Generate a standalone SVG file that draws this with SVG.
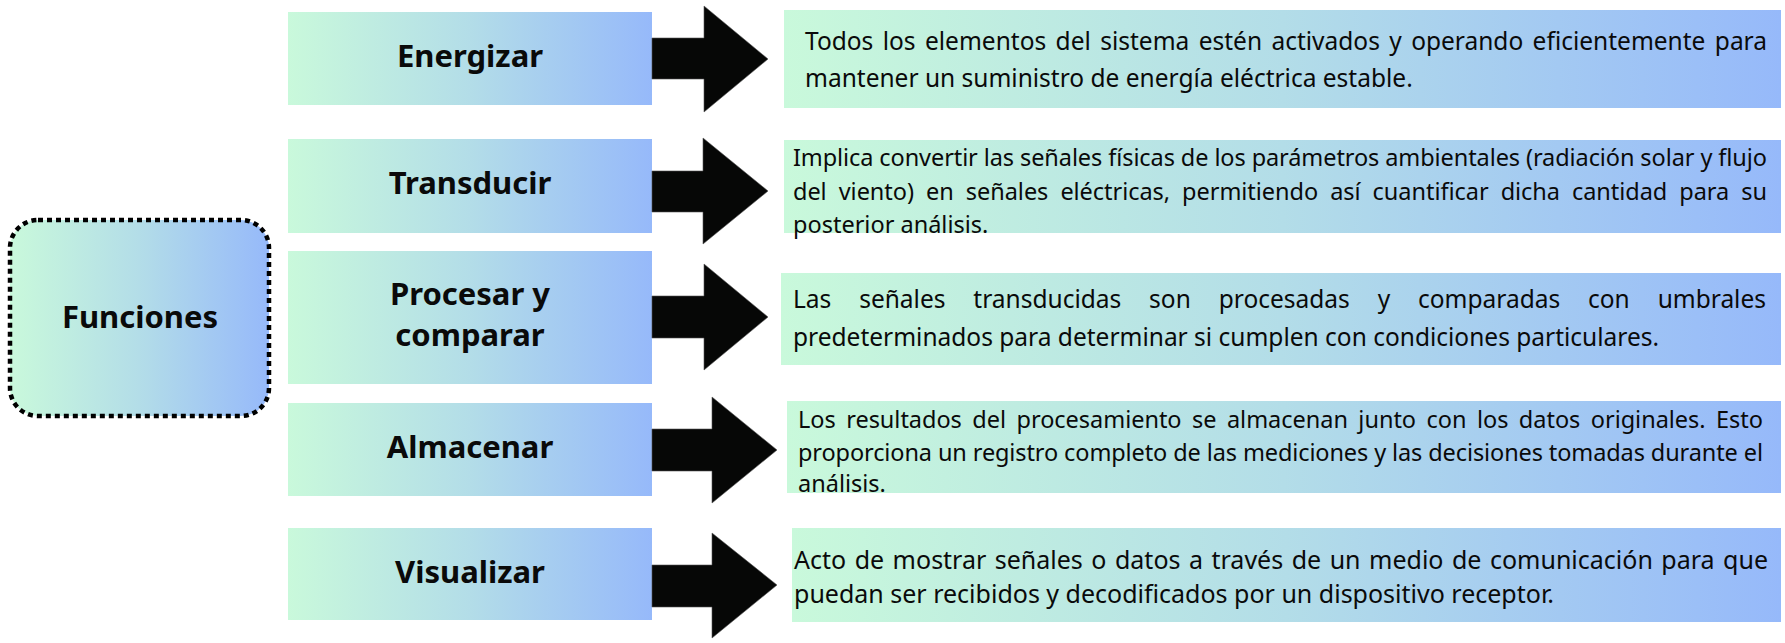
<svg xmlns="http://www.w3.org/2000/svg" width="1785" height="643" viewBox="0 0 1785 643">
<defs>
<linearGradient id="g" x1="0" y1="0" x2="1" y2="0">
<stop offset="0" stop-color="#c9f9db"/>
<stop offset="0.5" stop-color="#b3dde8"/>
<stop offset="1" stop-color="#96b9fa"/>
</linearGradient>
<style>
.box{fill:url(#g);}
.lbl{font-family:"Noto Sans","Open Sans",sans-serif;font-weight:bold;font-size:31px;fill:#0a0a0a;text-anchor:middle;}
.d{font-family:"Noto Sans","Open Sans",sans-serif;font-size:23.5px;fill:#0a0a0a;}
.arr{fill:#060706;stroke:#555;stroke-width:0.6;}
</style>
</defs>
<rect width="1785" height="643" fill="#ffffff"/>

<g id="funciones">
<rect x="10" y="220" width="259" height="196" rx="28" fill="url(#g)" stroke="#000" stroke-width="4.5" stroke-dasharray="5 4"/>
<text class="lbl" x="140" y="328">Funciones</text>
</g>

<g id="energizar">
<rect class="box" x="288" y="12" width="364" height="93"/>
<text class="lbl" x="470" y="67">Energizar</text>
</g>
<g id="transducir">
<rect class="box" x="288" y="139" width="364" height="94"/>
<text class="lbl" x="470" y="194">Transducir</text>
</g>
<g id="procesar">
<rect class="box" x="288" y="251" width="364" height="133"/>
<text class="lbl" x="470" y="305">Procesar y</text>
<text class="lbl" x="470" y="346">comparar</text>
</g>
<g id="almacenar">
<rect class="box" x="288" y="403" width="364" height="93"/>
<text class="lbl" x="470" y="458">Almacenar</text>
</g>
<g id="visualizar">
<rect class="box" x="288" y="528" width="364" height="92"/>
<text class="lbl" x="470" y="583">Visualizar</text>
</g>

<g id="connectors">
<polygon class="arr" points="652,38 704,38 704,6 768,59 704,112 704,79 652,79"/>
<polygon class="arr" points="652,171 703,171 703,138 768,191 703,244 703,212 652,212"/>
<polygon class="arr" points="652,296 704,296 704,264 768,317 704,370 704,338 652,338"/>
<polygon class="arr" points="652,429 712,429 712,397 777,450 712,503 712,471 652,471"/>
<polygon class="arr" points="652,565 712,565 712,533 777,585 712,638 712,607 652,607"/>
</g>

<g id="desc-energizar">
<rect class="box" x="784" y="10" width="997" height="98"/>
<text class="d" style="font-size:24.5px;word-spacing:3px" x="805" y="50" textLength="962" lengthAdjust="spacing">Todos los elementos del sistema estén activados y operando eficientemente para</text>
<text class="d" style="font-size:24.5px" x="805" y="87">mantener un suministro de energía eléctrica estable.</text>
</g>
<g id="desc-transducir">
<rect class="box" x="784" y="140" width="997" height="93"/>
<text class="d" x="793" y="166" textLength="974" lengthAdjust="spacing">Implica convertir las señales físicas de los parámetros ambientales (radiación solar y flujo</text>
<text class="d" style="word-spacing:6px" x="793" y="200" textLength="974" lengthAdjust="spacing">del viento) en señales eléctricas, permitiendo así cuantificar dicha cantidad para su</text>
<text class="d" x="793" y="233">posterior análisis.</text>
</g>
<g id="desc-procesar">
<rect class="box" x="781" y="273" width="1000" height="92"/>
<text class="d" style="font-size:24.5px;word-spacing:21.5px" x="793" y="308" textLength="973" lengthAdjust="spacing">Las señales transducidas son procesadas y comparadas con umbrales</text>
<text class="d" style="font-size:24.5px" x="793" y="346">predeterminados para determinar si cumplen con condiciones particulares.</text>
</g>
<g id="desc-almacenar">
<rect class="box" x="787" y="401" width="994" height="92"/>
<text class="d" style="word-spacing:4.4px" x="798" y="428" textLength="965" lengthAdjust="spacing">Los resultados del procesamiento se almacenan junto con los datos originales. Esto</text>
<text class="d" x="798" y="461" textLength="965" lengthAdjust="spacing">proporciona un registro completo de las mediciones y las decisiones tomadas durante el</text>
<text class="d" x="798" y="492">análisis.</text>
</g>
<g id="desc-visualizar">
<rect class="box" x="792" y="528" width="989" height="94"/>
<text class="d" style="font-size:25px;word-spacing:2px" x="794" y="569" textLength="974" lengthAdjust="spacing">Acto de mostrar señales o datos a través de un medio de comunicación para que</text>
<text class="d" style="font-size:25px" x="794" y="603">puedan ser recibidos y decodificados por un dispositivo receptor.</text>
</g>
</svg>
